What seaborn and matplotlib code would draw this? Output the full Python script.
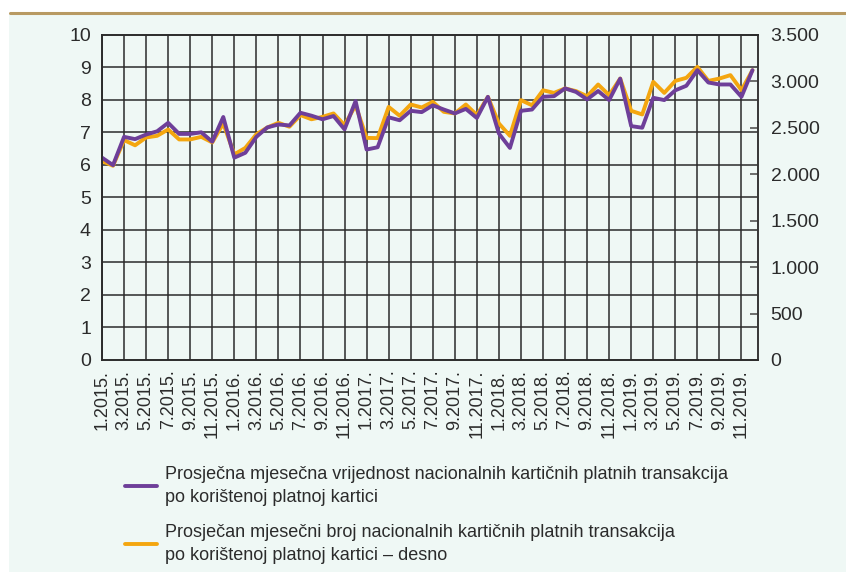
import numpy as np
import pandas as pd
import matplotlib
matplotlib.use("Agg")
import matplotlib.pyplot as plt
from matplotlib.ticker import FuncFormatter
from matplotlib.patches import Rectangle
from matplotlib.lines import Line2D
import seaborn as sns

# --- data: monthly, 1.2015. - 12.2019. ---
years = [2015, 2016, 2017, 2018, 2019]
months = [f"{m}.{y}." for y in years for m in range(1, 13)]

# average value per card (left axis)
avg_value = [
    6.22, 5.99, 6.86, 6.79, 6.93, 7.03, 7.29, 6.95, 6.95, 7.00, 6.71, 7.47,
    6.22, 6.37, 6.86, 7.15, 7.24, 7.21, 7.60, 7.51, 7.40, 7.50, 7.09, 7.96,
    6.47, 6.54, 7.46, 7.37, 7.66, 7.62, 7.83, 7.70, 7.58, 7.72, 7.44, 8.09,
    6.96, 6.52, 7.66, 7.70, 8.09, 8.11, 8.35, 8.24, 8.01, 8.27, 7.99, 8.65,
    7.19, 7.14, 8.06, 7.99, 8.29, 8.43, 8.91, 8.53, 8.47, 8.47, 8.09, 8.91,
]

# average number of transactions per card (right axis)
avg_count = [
    2140, 2090, 2366, 2310, 2394, 2412, 2480, 2373, 2373, 2401, 2341, 2545,
    2212, 2282, 2429, 2502, 2552, 2510, 2635, 2590, 2616, 2653, 2527, 2741,
    2390, 2387, 2723, 2628, 2749, 2717, 2778, 2670, 2653, 2749, 2635, 2831,
    2545, 2412, 2796, 2741, 2902, 2874, 2922, 2893, 2838, 2964, 2849, 3028,
    2681, 2642, 2993, 2874, 3003, 3036, 3154, 3003, 3028, 3065, 2903, 3118,
]

label_value = "Prosječna mjesečna vrijednost nacionalnih kartičnih platnih transakcija\npo korištenoj platnoj kartici"
label_count = "Prosječan mjesečni broj nacionalnih kartičnih platnih transakcija\npo korištenoj platnoj kartici – desno"

df = pd.DataFrame({"idx": np.arange(len(months)), "month": months,
                   "value": avg_value, "count": avg_count})

PURPLE = "#6E3F99"
ORANGE = "#F4A60F"
MINT = "#EFF8F5"
DARK = "#2B2B2B"

sns.set_style("white")
plt.rcParams["font.family"] = ["Liberation Sans", "DejaVu Sans"]
plt.rcParams["text.color"] = DARK

fig = plt.figure(figsize=(8.46, 5.72), dpi=100, facecolor="white")
# mint panel with tan rule on top
fig.patches.append(Rectangle((9 / 846, 0), 1, 1 - 13 / 572, transform=fig.transFigure,
                             facecolor=MINT, edgecolor="none", zorder=-5))
fig.lines.append(Line2D([10 / 846, 1], [1 - 12.5 / 572, 1 - 12.5 / 572], transform=fig.transFigure,
                        color="#B89A62", lw=2.2, zorder=-4))

ax = fig.add_axes([102 / 846, 1 - 360 / 572, 656 / 846, 325.3 / 572])
ax2 = ax.twinx()
ax2.set_zorder(ax.get_zorder() - 1)
ax.patch.set_visible(False)
ax2.patch.set_visible(False)

# orange (right) below, grid on this axis so both lines sit above it
sns.lineplot(data=df, x="idx", y="count", ax=ax2, color=ORANGE, lw=2.8, legend=False)
sns.lineplot(data=df, x="idx", y="value", ax=ax, color=PURPLE, lw=2.8, legend=False)

ax.set_xlim(0, 59.5)
ax.set_ylim(0, 10)
ax2.set_ylim(0, 3500)

ticks = df["idx"][::2]
ax.set_xticks(ticks)
ax.set_xticklabels(df["month"][::2], rotation=90, fontsize=13)
ax.set_yticks(range(0, 11))
ax.tick_params(axis="y", length=0, pad=8, labelsize=14, colors=DARK)
ax.tick_params(axis="x", length=0, pad=7, colors=DARK)

ax2.set_yticks(np.arange(0, 3501, 500))
ax2.yaxis.set_major_formatter(FuncFormatter(lambda v, p: f"{int(v):,}".replace(",", ".")))
ax2.tick_params(axis="y", direction="in", length=6, width=1.2, color="#555555",
                pad=9, labelsize=14, labelcolor=DARK)

# grid lines drawn on the lower axis
ax2.xaxis.set_visible(True)
ax2.set_xticks(ticks)
ax2.tick_params(axis="x", bottom=False, top=False, labelbottom=False, labeltop=False)
ax2.set_yticks(np.arange(0, 3501, 350), minor=True)
ax2.tick_params(axis="y", which="minor", length=0)
ax2.grid(True, axis="x", which="major", color=DARK, lw=1.1)
ax2.grid(True, axis="y", which="minor", color=DARK, lw=1.1)
ax.grid(False)

ax.set_xlabel("")
ax.set_ylabel("")
ax2.set_xlabel("")
ax2.set_ylabel("")
for a in (ax, ax2):
    for s in a.spines.values():
        s.set_color(DARK)
        s.set_linewidth(1.2)
ax2.spines["right"].set_color("#777777")

handles = [Line2D([], [], color=PURPLE, lw=2.8), Line2D([], [], color=ORANGE, lw=2.8)]
leg = fig.legend(handles, [label_value, label_count], loc="upper left",
                 bbox_to_anchor=(109 / 846, 1 - 450 / 572), frameon=False, fontsize=13,
                 handlelength=1.75, handletextpad=0.45, labelspacing=1.0)
for t in leg.get_texts():
    t.set_linespacing(1.45)

fig.savefig("out.png", dpi=100, facecolor=fig.get_facecolor())
